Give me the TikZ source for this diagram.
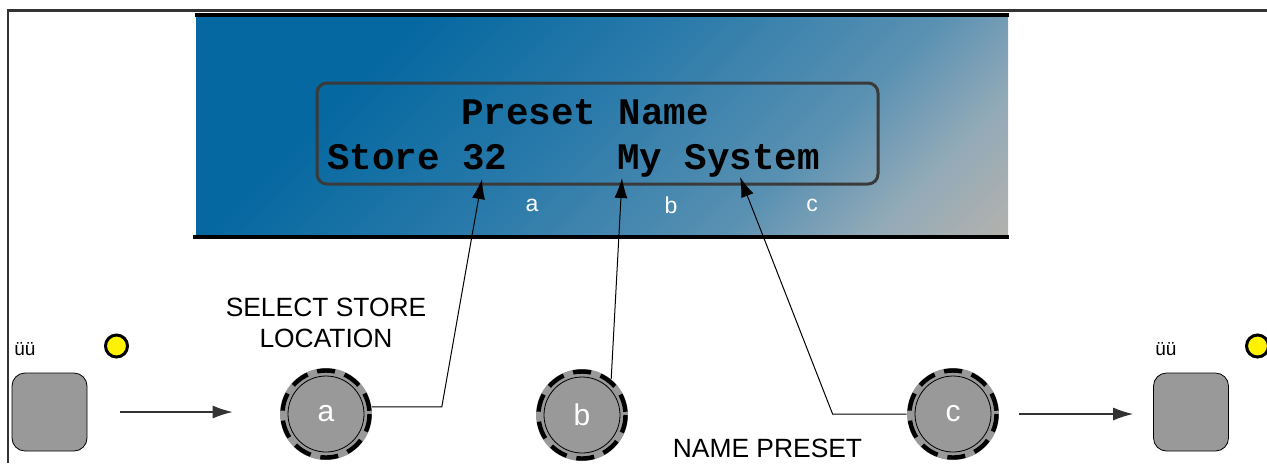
\documentclass[tikz,border=0pt]{standalone}
\usepackage{fontspec}
\setmainfont{Liberation Sans}
\newfontfamily\lcdfont{Liberation Mono}
\usetikzlibrary{arrows.meta}
\definecolor{framegray}{HTML}{333333}
\definecolor{knobgray}{HTML}{999999}
\definecolor{wingray}{HTML}{3A3A3A}
\definecolor{lcdgray}{HTML}{B5B2AC}
\definecolor{lcdpale}{HTML}{93AAB8}
\definecolor{lcdmid}{HTML}{5A91B2}
\definecolor{lcdsky}{HTML}{2A7AAA}
\definecolor{lcdblue}{HTML}{0568A0}
\pgfdeclareverticalshading{lcdglow}{100bp}{color(0bp)=(lcdgray); color(14bp)=(lcdgray); color(24bp)=(lcdpale); color(34bp)=(lcdmid); color(52bp)=(lcdsky); color(70bp)=(lcdblue); color(100bp)=(lcdblue)}
\tikzset{
	knob/.style={circle, fill=knobgray, minimum size=46pt, inner sep=0pt, text=white, font=\fontsize{15}{18}\selectfont},
	ring/.style={line width=2.2pt, dash pattern=on 9pt off 5pt},
	button/.style={draw, thin, fill=knobgray, rounded corners=6.5pt, minimum width=37.5pt, minimum height=39pt},
	led/.style={circle, draw, line width=1.5pt, fill=yellow, minimum size=11pt, inner sep=0pt},
	flow/.style={draw=framegray, line width=0.6pt, -{Latex[length=10pt,width=6.5pt]}},
	pointer/.style={line width=0.5pt, -{Latex[length=10pt,width=6.5pt]}},
	lcdtext/.style={anchor=base west, inner sep=0pt, font=\lcdfont\fontsize{18.75}{22}\selectfont\bfseries},
	lcdlabel/.style={text=white, font=\fontsize{11.5}{14}\selectfont},
	keylabel/.style={anchor=base west, inner sep=0pt, font=\fontsize{9.5}{11}\selectfont},
	caption/.style={font=\fontsize{13.2}{15.5}\selectfont, align=center, inner sep=0pt}
}
\begin{document}
\begin{tikzpicture}[x=0.5pt,y=-0.5pt]
		\useasboundingbox (0,0) rectangle (1267,463);
		% panel edge
		\draw[line width=1.25pt, framegray] (8,463) -- (8,10.5) -- (1275,10.5);
		% display
		\shade[shading=lcdglow, shading angle=45] (196,15) rectangle (1008,237);
		\draw[line width=2pt] (195,15) -- (1009,15);
		\draw[line width=2pt] (193,237) -- (1009,237);
		\draw[line width=1.5pt, wingray, rounded corners=5pt] (317,83) rectangle (878,184);
		\node[lcdtext] (title) at (461,124) {Preset Name};
		\node[lcdtext] (store) at (327,169) {Store 32};
		\node[lcdtext] (sysname) at (617,169) {My System};
		\node[lcdlabel] (labA) at (532,205) {a};
		\node[lcdlabel] (labB) at (671,205) {b};
		\node[lcdlabel] (labC) at (812,205) {c};
		% knobs
		\node[knob] (knobA) at (326,414) {a};
		\node[knob] (knobB) at (582,415) {b};
		\node[knob] (knobC) at (953,414) {c};
		\foreach \k in {knobA,knobB,knobC}{
			\draw[thin] (\k.center) circle[radius=38];
			\draw[ring] (\k.center) circle[radius=43.5];
		}
		% keys and leds
		\node[button] (btnL) at (49.5,412) {};
		\node[button] (btnR) at (1191,412) {};
		\node[led] (ledL) at (116.5,346) {};
		\node[led] (ledR) at (1257.5,346) {};
		\node[keylabel] (keyL) at (14,355) {üü};
		\node[keylabel] (keyR) at (1155,355) {üü};
		\node[caption] (selcap) at (326,323) {SELECT STORE\\LOCATION};
		\node[caption, anchor=base] (namecap) at (767.5,457) {NAME PRESET};
		% pointers to the display
		\coordinate (tipA) at (482,179);
		\coordinate (tipB) at (622,178);
		\coordinate (tipC) at (740,177);
		\draw[pointer] (knobA.9) -- ++(70,0) -- (tipA);
		\draw[pointer] (knobB.51) -- (tipB);
		\draw[pointer] (knobC.west) -- ++(-74,0) -- (tipC);
		\draw[flow, shorten <=16.5pt, shorten >=23.5pt] (btnL.east) -- (btnL.east -| knobA.west);
		\draw[flow, shorten <=10pt, shorten >=10pt] (knobC.east) -- (knobC.east -| btnR.west);
	\end{tikzpicture}
\end{document}
